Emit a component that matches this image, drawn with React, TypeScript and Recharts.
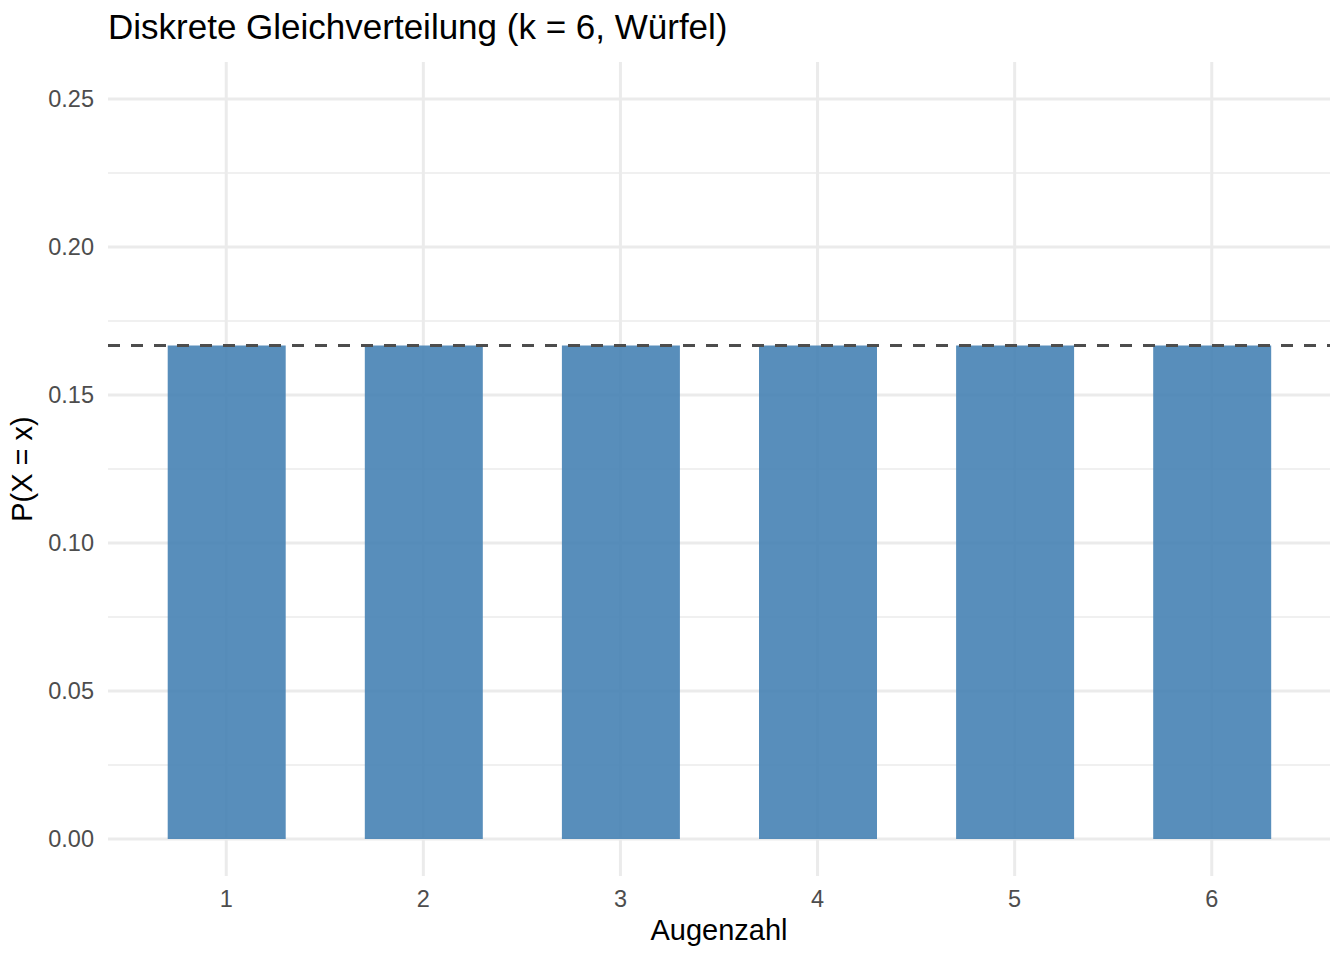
import { BarChart, Bar, XAxis, YAxis, CartesianGrid, ReferenceLine } from "recharts";

// Augenzahl eines fairen Würfels
const faces = [1, 2, 3, 4, 5, 6];
const probs = [0.1667, 0.1667, 0.1667, 0.1667, 0.1667, 0.1667];
const uniformLevel = 0.1667;

const yTicks = [0, 0.05, 0.1, 0.15, 0.2, 0.25];
const yMinor = [0.025, 0.075, 0.125, 0.175, 0.225];

const data = faces.map((x, i) => ({ x, p: probs[i] }));

const FONT = '"Liberation Sans", Arial, Helvetica, sans-serif';

const App: React.FC = () => {
  return (
    <div style={{ position: "absolute", left: 0, top: 0, width: 1344, height: 960, background: "#fff" }}>
      <BarChart width={1344} height={960} data={data} margin={{ top: 62, right: 14, bottom: 0, left: 0 }}>
        <CartesianGrid horizontalValues={yMinor} vertical={false} stroke="#EBEBEB" strokeWidth={1.5} />
        <CartesianGrid horizontalValues={yTicks} verticalValues={faces} stroke="#EBEBEB" strokeWidth={3} />
        <XAxis
          dataKey="x"
          type="number"
          domain={[0.4, 6.6]}
          ticks={faces}
          allowDataOverflow
          axisLine={false}
          tickLine={false}
          tickSize={0}
          tickMargin={14}
          height={84}
          tick={{ fill: "#4D4D4D", fontSize: 23.5, fontFamily: FONT }}
          label={{
            content: () => (
              <text x={719} y={940} textAnchor="middle" fill="#000" fontSize={29} fontFamily={FONT}>
                Augenzahl
              </text>
            ),
          }}
        />
        <YAxis
          type="number"
          domain={[-0.0125, 0.2625]}
          ticks={yTicks}
          allowDataOverflow
          axisLine={false}
          tickLine={false}
          tickSize={0}
          tickMargin={14}
          width={108}
          tickFormatter={(v: number) => v.toFixed(2)}
          tick={{ fill: "#4D4D4D", fontSize: 23.5, fontFamily: FONT }}
          label={{
            content: () => (
              <text
                x={32}
                y={469}
                transform="rotate(-90 32 469)"
                textAnchor="middle"
                fill="#000"
                fontSize={29}
                fontFamily={FONT}
              >
                P(X = x)
              </text>
            ),
          }}
        />
        <Bar dataKey="p" barSize={118} fill="#4682B4" fillOpacity={0.9} isAnimationActive={false} />
        <ReferenceLine y={uniformLevel} stroke="#4D4D4D" strokeWidth={3} strokeDasharray="12 11" />
        <text x={108} y={39} fill="#000" fontSize={35} fontFamily={FONT}>
          Diskrete Gleichverteilung (k = 6, Würfel)
        </text>
      </BarChart>
    </div>
  );
};

export default App;
